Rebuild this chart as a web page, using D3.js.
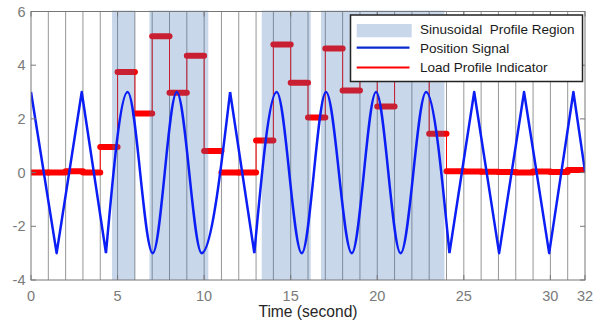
<!DOCTYPE html>
<html><head><meta charset="utf-8">
<script src="https://cdn.jsdelivr.net/npm/d3@7"></script>
<style>body{margin:0;background:#fff} svg{display:block;font-family:"Liberation Sans",Arial,Helvetica,sans-serif}</style>
</head><body><svg id="c" width="599" height="326"></svg>
<script>
// ---- data ----
const xTicks = [0, 5, 10, 15, 20, 25, 30, 32];
const yTicks = [-4, -2, 0, 2, 4, 6];
const gridTimes = [1,2,3,4,5,6,7,8,9,10,11,12,13,14,15,16,17,18,19,20,21,22,23,24,25,26,27,28,29,30,31];
const regionStart = [4.68, 6.84, 13.33, 16.75];
const regionEnd   = [6.0, 10.24, 16.16, 23.88];
const signalT = [0, 1.48, 2.93, 4.33, 5.58, 7.03, 8.42, 9.86, 11.5, 12.9, 14.19, 15.64, 17.04, 18.53, 19.93, 21.35, 22.82, 24.17, 25.6, 27.04, 28.48, 29.93, 31.33, 32];
const signalV = [3, -3, 3, -3, 3, -3, 3, -3, 3, -3, 3, -3, 3, -3, 3, -3, 3, -3, 3, -3, 3, -3, 3, 0.05];
const sineSpanStart = [4.33, 12.9];
const sineSpanEnd   = [11.5, 24.17];
const loadStart = [0,1,2,3,4,5,6,7,8,9,10,11,12,13,14,15,16,17,18,19,20,21,22,23,24,25,26,27,28,29,30,31];
const loadLevel = [0,0,0.05,0,0.95,3.75,2.2,5.08,2.97,4.35,0.8,0,0,1.2,4.77,3.35,2.05,4.62,3.06,4.1,2.46,5.0,4.0,1.45,0.05,0.04,0.03,0.02,0,0.04,0.02,0.1];
const loadEnd = 32;
const legendLabels = ["Sinusoidal  Profile Region", "Position Signal", "Load Profile Indicator"];
const xTitle = "Time (second)";

// ---- layout ----
const L = 31, R = 585, T = 11.5, B = 280;
const x = d3.scaleLinear().domain([0, 32]).range([L, R]);
const y = d3.scaleLinear().domain([-4, 6]).range([B, T]);
const svg = d3.select("#c");
const shadeColor = "rgb(60,110,180)", shadeOpacity = 0.28;

svg.append("defs").append("clipPath").attr("id","clip")
  .append("rect").attr("x",L).attr("y",T-2).attr("width",R-L).attr("height",B-T+2);

const plot = svg.append("g").attr("clip-path","url(#clip)");

// vertical grid lines
plot.selectAll(".g").data(gridTimes).join("line")
  .attr("x1",d=>x(d)).attr("x2",d=>x(d)).attr("y1",T).attr("y2",B)
  .attr("stroke","rgb(150,150,150)").attr("stroke-width",1);

// load profile: thin connectors
const stepPts = loadStart.map((t,i)=>[t, loadLevel[i]]).concat([[loadEnd, loadLevel[loadLevel.length-1]]]);
plot.append("path").attr("d", d3.line().x(d=>x(d[0])).y(d=>y(d[1])).curve(d3.curveStepAfter)(stepPts))
  .attr("fill","none").attr("stroke","#f00").attr("stroke-width",1);
// thick bars
plot.selectAll(".bar").data(loadStart).join("line")
  .attr("x1",(d)=>x(d)).attr("x2",(d,i)=>x(i<loadStart.length-1?loadStart[i+1]:loadEnd))
  .attr("y1",(d,i)=>y(loadLevel[i])).attr("y2",(d,i)=>y(loadLevel[i]))
  .attr("stroke","#f00").attr("stroke-width",6).attr("stroke-linecap","round");

// shaded regions
plot.selectAll(".reg").data(regionStart).join("rect")
  .attr("x",d=>x(d)).attr("width",(d,i)=>x(regionEnd[i])-x(d))
  .attr("y",T-1).attr("height",B-T+1)
  .attr("fill",shadeColor).attr("fill-opacity",shadeOpacity);

// position signal
const pts = signalT.map((t,i)=>[t, signalV[i]]);
const bounds = [0].concat(sineSpanStart.flatMap((s,i)=>[s, sineSpanEnd[i]])).concat([32]);
let dStr = "";
for (let k=0;k<bounds.length-1;k++){
  const a=bounds[k], b=bounds[k+1];
  const seg = pts.filter(p=>p[0]>=a-1e-9 && p[0]<=b+1e-9);
  const isSine = sineSpanStart.includes(a);
  dStr += d3.line().x(d=>x(d[0])).y(d=>y(d[1])).curve(isSine?d3.curveMonotoneX:d3.curveLinear)(seg);
}
plot.append("path").attr("d",dStr).attr("fill","none").attr("stroke","#0a1ef5")
  .attr("stroke-width",2.5).attr("stroke-linejoin","round");

// frame
const axisColor = "#777";
svg.append("rect").attr("x",L).attr("y",T).attr("width",R-L).attr("height",B-T)
  .attr("fill","none").attr("stroke",axisColor).attr("stroke-width",1);
// ticks
yTicks.forEach(v=>{
  svg.append("line").attr("x1",L).attr("x2",L+5).attr("y1",y(v)).attr("y2",y(v)).attr("stroke",axisColor);
  svg.append("line").attr("x1",R).attr("x2",R-5).attr("y1",y(v)).attr("y2",y(v)).attr("stroke",axisColor);
});
xTicks.forEach(v=>{
  svg.append("line").attr("x1",x(v)).attr("x2",x(v)).attr("y1",B).attr("y2",B-5).attr("stroke",axisColor);
  svg.append("line").attr("x1",x(v)).attr("x2",x(v)).attr("y1",T).attr("y2",T+5).attr("stroke",axisColor);
});
// tick labels
svg.selectAll(".yl").data(yTicks).join("text")
  .attr("x",25.5).attr("y",d=>y(d)+5).attr("text-anchor","end")
  .attr("font-size","14.5px").attr("fill","#7a7a7a").text(d=>d);
svg.selectAll(".xl").data(xTicks).join("text")
  .attr("x",d=>x(d)).attr("y",300.5).attr("text-anchor","middle")
  .attr("font-size","14.5px").attr("fill","#7a7a7a").text(d=>d);
svg.append("text").attr("x",(L+R)/2).attr("y",317).attr("text-anchor","middle")
  .attr("font-size","15.6px").attr("fill","#262626").text(xTitle);

// legend
const lg = svg.append("g");
lg.append("rect").attr("x",350.5).attr("y",15).attr("width",232).attr("height",66.5)
  .attr("fill","#fff").attr("stroke","#222").attr("stroke-width",1.5);
lg.append("rect").attr("x",356.7).attr("y",24).attr("width",55).attr("height",13.3)
  .attr("fill",shadeColor).attr("fill-opacity",shadeOpacity);
lg.append("line").attr("x1",356.7).attr("x2",409.5).attr("y1",47.7).attr("y2",47.7)
  .attr("stroke","#0a2ad0").attr("stroke-width",2.2);
lg.append("line").attr("x1",356.7).attr("x2",409.5).attr("y1",67.5).attr("y2",67.5)
  .attr("stroke","#f00").attr("stroke-width",2);
const rowBase = [34.3, 53.2, 72.2];
lg.selectAll(".lt").data(legendLabels).join("text")
  .attr("x",420).attr("y",(d,i)=>rowBase[i]).attr("font-size","13.5px").attr("fill","#1a1a1a")
  .style("white-space","pre").text(d=>d);
</script></body></html>
